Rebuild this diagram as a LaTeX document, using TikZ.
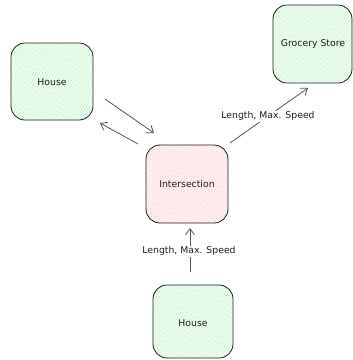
\documentclass[tikz,border=0pt]{standalone}
\usepackage{fontspec}
\setmainfont{DejaVu Sans}
\usetikzlibrary{arrows.meta,patterns.meta}
\definecolor{gfill}{HTML}{F2FCF4}
\definecolor{ghatch}{HTML}{B2F2BB}
\definecolor{rfill}{HTML}{FEF3F3}
\definecolor{rhatch}{HTML}{FFC9C9}
\definecolor{edge}{HTML}{1E1E1E}
\definecolor{arr}{HTML}{555555}
\tikzset{
  box/.style={draw=edge,line width=0.8pt,rounded corners=14pt},
  lbl/.style={font=\fontsize{9.3}{10}\selectfont,text=edge,inner sep=1pt},
  conn/.style={draw=arr,line width=0.8pt,-{Straight Barb[length=6pt,width=9pt]}},
}
\begin{document}
\begin{tikzpicture}[x=1pt,y=-1pt]
\useasboundingbox (0,0) rectangle (353,360);
% boxes
\foreach \xa/\ya/\xb/\yb/\fc/\hc in {11/43/93/120/gfill/ghatch, 273/5/352/83/gfill/ghatch, 146/145/228/223/rfill/rhatch, 153/285/233/358/gfill/ghatch}{
  \fill[\fc,rounded corners=14pt] (\xa,\ya) rectangle (\xb,\yb);
  \fill[pattern={Lines[angle=60,distance=2.6pt,line width=0.4pt]},pattern color=\hc,rounded corners=14pt] (\xa,\ya) rectangle (\xb,\yb);
  \draw[box] (\xa,\ya) rectangle (\xb,\yb);
}
\node[lbl] (h1) at (52,82) {House};
\node[lbl] (gs) at (313,44) {Grocery Store};
\node[lbl] (is) at (187,184) {Intersection};
\node[lbl] (h2) at (193,323) {House};
% connector endpoints
\coordinate (a1s) at (105,99);
\coordinate (a1e) at (154,133);
\coordinate (a2s) at (138,144);
\coordinate (a2e) at (100,123);
\coordinate (a3s) at (230,143);
\coordinate (a3e) at (308,88);
\coordinate (a4s) at (190,272);
\coordinate (a4e) at (190,228);
\draw[conn] (a1s) -- (a1e);
\draw[conn] (a2s) -- (a2e);
\draw[conn] (a3s) -- (a3e);
\draw[conn] (a4s) -- (a4e);
\node[lbl,fill=white] (l1) at (268,116) {Length, Max. Speed};
\node[lbl,fill=white] (l2) at (189,251) {Length, Max. Speed};
\end{tikzpicture}
\end{document}
